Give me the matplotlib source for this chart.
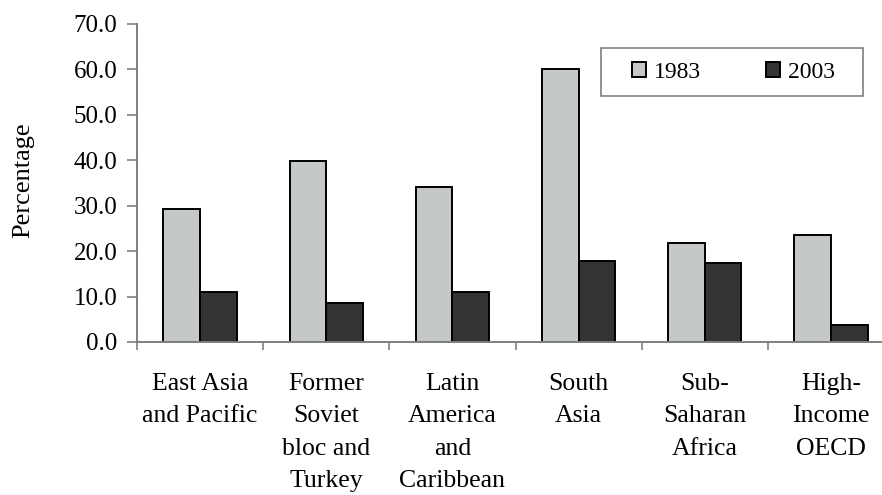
import matplotlib
matplotlib.use('Agg')
import matplotlib.pyplot as plt
from matplotlib.patches import Rectangle
import numpy as np

# data
regions = ['East Asia\nand Pacific', 'Former\nSoviet\nbloc and\nTurkey', 'Latin\nAmerica\nand\nCaribbean',
           'South\nAsia', 'Sub-\nSaharan\nAfrica', 'High-\nIncome\nOECD']
years = ['1983', '2003']
vals_1983 = [29.3, 39.8, 34.1, 60.1, 21.9, 23.6]
vals_2003 = [10.9, 8.6, 10.9, 17.9, 17.4, 3.8]
yticks = [0, 10, 20, 30, 40, 50, 60, 70]

plt.rcParams['font.family'] = ['Liberation Serif', 'DejaVu Serif']

fig = plt.figure(figsize=(8.82, 4.95), dpi=100)
ax = fig.add_axes([137/882, 1 - 342/495, 757/882, 318/495])

x = np.arange(len(regions))
w = 0.29
ax.bar(x - w/2, vals_1983, w, color='#c4c8c8', edgecolor='black', linewidth=1.4, label=years[0])
ax.bar(x + w/2, vals_2003, w, color='#333333', edgecolor='black', linewidth=1.4, label=years[1])

ax.set_xlim(-0.5, len(regions) - 0.5)
ax.set_ylim(0, 70)
ax.set_yticks(yticks)
ax.set_yticklabels(['%.1f' % v for v in yticks], fontsize=18)

# category boundaries as major ticks, labels on minor ticks at centres
ax.set_xticks(np.arange(len(regions)) - 0.5)
ax.set_xticklabels([])
ax.set_xticks(x, minor=True)
ax.set_xticklabels(regions, minor=True, fontsize=18.5, linespacing=1.62, va='top')
ax.tick_params(axis='x', which='minor', length=0, pad=22)
ax.tick_params(axis='x', which='major', length=6, width=1.2, color='#808080', direction='out')
ax.tick_params(axis='y', length=7, width=1.2, color='#808080', pad=7)

for s in ['top', 'right']:
    ax.spines[s].set_visible(False)
for s in ['left', 'bottom']:
    ax.spines[s].set_color('#808080')
    ax.spines[s].set_linewidth(1.4)
ax.spines['bottom'].set_clip_on(False)

fig.text(23/882, 1 - 180/495, 'Percentage', rotation=90, ha='center', va='center', fontsize=19)

leg = ax.legend(loc='center', bbox_to_anchor=(0.788, 0.849), ncol=2, frameon=False, fontsize=17,
                handlelength=0.6, handleheight=0.6, handletextpad=0.35, columnspacing=2.75,
                borderaxespad=0)
ax.add_patch(Rectangle((0.613, 0.7736), 0.346, 0.151, transform=ax.transAxes, fill=False,
                       edgecolor='#808080', linewidth=1.2, clip_on=False))

plt.savefig('out.png', dpi=100)
